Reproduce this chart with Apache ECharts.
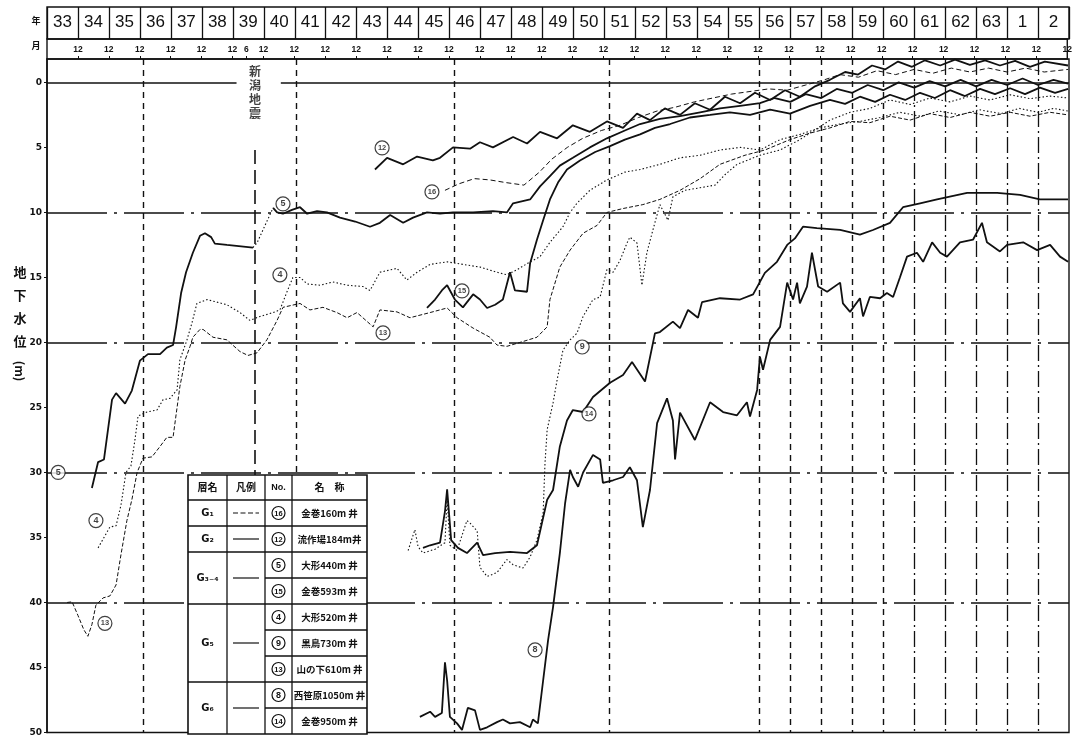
<!DOCTYPE html>
<html>
<head>
<meta charset="utf-8">
<script src="https://cdn.jsdelivr.net/npm/echarts@6/dist/echarts.min.js"></script>
<style>
html, body { margin: 0; padding: 0; background: #fff; }
#chart { width: 1075px; height: 737px; }
</style>
</head>
<body>
<div id="chart"></div>
<script>
// ---- header: fiscal years (Showa 33 .. Heisei 2) and month marks ----
const yearLabels = ['33','34','35','36','37','38','39','40','41','42','43','44','45','46','47','48','49','50','51','52','53','54','55','56','57','58','59','60','61','62','63','1','2'];
const monthLabelValues = [34,35,36,37,38,39,39.45,40,41,42,43,44,45,46,47,48,49,50,51,52,53,54,55,56,57,58,59,60,61,62,63,64,65,66];
const monthLabelTexts  = ['12','12','12','12','12','12','6','12','12','12','12','12','12','12','12','12','12','12','12','12','12','12','12','12','12','12','12','12','12','12','12','12','12','12'];
const depthTicks = [0,5,10,15,20,25,30,35,40,45,50];

// ---- reference lines (x in Showa years, y in metres below ground) ----
const zeroLineSegments = [[33, 39.12], [40.55, 66]];
const levelLines = [10, 20, 30, 40];
const boundaryShortDash = [36.1, 41.05, 46.15, 51.15, 56, 57, 58, 59, 60];
const boundaryLongDash = [61, 62, 63, 64, 65];
const quakeYear = 39.72;
const quakeLineSpan = [5.2, 30.2];
const quakeLabelDepth = 0.75;

// ---- observation wells: [Showa year, depth m] ----
const well5Early = [[34.45,31.2],[34.65,29.2],[34.84,29.0],[35.10,24.4],[35.23,23.9],[35.52,24.7],[35.74,23.7],[36.00,21.4],[36.26,20.9],[36.65,20.9],[36.87,20.4],[37.07,20.2],[37.17,18.8],[37.33,16.2],[37.49,14.6],[37.71,13.1],[37.94,11.8],[38.10,11.6],[38.30,11.9],[38.42,12.4],[38.81,12.5],[39.65,12.7]];
const well5Gap = [[39.65,12.7],[39.78,12.35],[40.30,9.65]];
const well5Late = [[40.30,9.65],[40.43,10.0],[40.62,10.1],[40.91,9.8],[41.17,9.6],[41.40,10.1],[41.72,9.9],[42.04,10.0],[42.46,10.4],[42.95,10.7],[43.43,11.1],[43.75,10.8],[44.08,10.2],[44.50,10.8],[44.82,10.4],[45.27,10.0],[45.69,10.1],[46.11,10.0],[46.76,10.0],[47.40,9.9],[47.85,10.0],[48.05,9.3],[48.60,9.0],[48.92,8.0],[49.24,7.2],[49.56,6.4],[49.98,5.8],[50.53,5.0],[51.08,4.3],[51.66,3.7],[52.15,3.2],[52.79,2.8],[53.44,2.6],[54.09,2.3],[54.73,2.0],[55.38,1.8],[56.02,1.6],[56.5,1.2],[57.0,1.5],[57.5,0.9],[58.0,1.2],[58.5,0.5],[59.0,0.8],[59.5,0.2],[60.0,0.6],[60.5,0.0],[61.0,0.4],[61.5,-0.1],[62.0,0.3],[62.5,-0.2],[63.0,0.3],[63.5,-0.2],[64.0,0.2],[64.5,-0.3],[65.0,0.2],[65.5,-0.2],[65.97,0.1]];
const well12 = [[43.59,6.7],[43.98,5.8],[44.50,6.3],[44.95,5.7],[45.46,6.0],[45.69,5.8],[46.11,5.0],[46.66,5.1],[46.98,4.6],[47.40,5.0],[48.05,4.2],[48.50,4.7],[48.92,3.8],[49.47,4.3],[49.98,3.3],[50.53,3.8],[51.08,3.0],[51.60,3.5],[52.05,2.4],[52.47,2.9],[52.95,2.0],[53.44,2.5],[53.92,1.6],[54.41,2.1],[54.89,1.1],[55.38,1.6],[55.86,0.8],[56.35,1.35],[56.83,0.6],[57.31,1.1],[57.80,0.3],[58.28,-0.2],[58.77,-0.8],[59.19,-0.6],[59.64,-1.3],[60.06,-1.0],[60.48,-1.6],[60.93,-1.2],[61.35,-1.7],[61.84,-1.3],[62.32,-1.75],[62.80,-1.35],[63.29,-1.7],[63.77,-1.3],[64.26,-1.65],[64.74,-1.2],[65.22,-1.6],[65.97,-1.3]];
const well15 = [[45.27,17.35],[45.53,16.7],[45.75,16.0],[45.92,15.6],[46.17,16.7],[46.43,17.3],[46.76,16.3],[46.98,16.7],[47.21,17.35],[47.47,17.1],[47.72,16.7],[47.95,14.6],[48.11,16.0],[48.50,16.1],[48.60,13.9],[48.82,12.1],[49.02,10.6],[49.24,9.0],[49.50,7.7],[49.79,6.7],[50.21,6.0],[50.70,5.35],[51.18,4.9],[51.66,4.4],[52.15,4.0],[52.63,3.5],[53.12,3.2],[53.76,2.7],[54.41,2.5],[55.05,2.3],[55.70,2.5],[56.35,2.1],[56.99,2.4],[57.64,1.8],[58.28,1.35],[58.77,1.65],[59.25,1.1],[59.74,1.5],[60.22,0.95],[60.71,1.35],[61.19,0.8],[61.67,1.2],[62.16,0.6],[62.64,1.05],[63.13,0.5],[63.61,0.9],[64.10,0.45],[64.58,0.9],[65.06,0.4],[65.55,0.8],[65.97,0.5]];
const well16 = [[45.85,8.3],[46.3,7.8],[46.8,7.4],[47.3,7.5],[47.8,7.7],[48.4,7.9],[48.9,6.9],[49.3,5.9],[49.8,5.0],[50.3,4.3],[50.9,3.7],[51.5,3.3],[52.1,2.7],[52.7,2.2],[53.3,1.9],[53.9,1.5],[54.5,1.2],[55.1,0.9],[55.7,0.7],[56.3,0.5],[56.9,0.6],[57.5,0.2],[58.1,-0.2],[58.6,-0.6],[59.2,-0.4],[59.8,-0.9],[60.4,-0.6],[61.0,-1.0],[61.6,-0.7],[62.2,-1.1],[62.8,-0.8],[63.4,-1.1],[64.0,-0.8],[64.6,-1.1],[65.2,-0.8],[65.97,-1.0]];
const well4 = [[34.65,35.8],[34.84,35.0],[35.03,34.2],[35.23,34.1],[35.39,32.5],[35.55,30.0],[35.71,29.5],[35.84,27.5],[35.94,25.65],[36.23,25.35],[36.55,25.2],[36.75,24.4],[36.97,24.3],[37.20,23.65],[37.29,21.35],[37.52,19.8],[37.68,18.5],[37.84,17.0],[38.17,16.7],[38.81,17.1],[39.23,17.7],[39.55,18.3],[39.88,18.0],[40.30,17.7],[40.52,17.5],[40.75,16.1],[40.94,15.0],[41.17,15.0],[41.40,15.5],[41.82,15.6],[42.23,15.35],[42.69,15.6],[43.20,15.7],[43.43,16.0],[43.75,14.6],[44.30,14.3],[44.62,15.2],[44.95,14.6],[45.37,14.0],[45.92,13.8],[46.43,14.0],[46.98,14.2],[47.53,14.6],[47.85,14.8],[48.18,14.4],[48.60,13.8],[48.92,13.4],[49.24,12.3],[49.66,11.1],[49.89,10.0],[50.11,9.3],[50.53,8.3],[51.08,7.5],[51.66,6.9],[52.15,6.7],[52.79,6.3],[53.44,5.8],[54.09,5.6],[54.73,5.2],[55.38,5.0],[56.02,5.2],[56.67,4.4],[57.31,4.0],[57.96,3.5],[58.61,3.2],[59.25,3.0],[59.90,2.7],[60.54,2.3],[61.2,2.6],[61.8,2.2],[62.5,2.5],[63.1,2.1],[63.8,2.4],[64.4,2.0],[65.0,2.3],[65.5,2.0],[65.97,2.2]];
const well9 = [[44.66,36.0],[44.88,34.4],[44.98,35.7],[45.14,36.2],[45.53,35.9],[45.85,35.4],[45.92,32.0],[46.01,35.6],[46.24,36.0],[46.56,33.7],[46.66,33.9],[46.89,34.5],[46.98,37.3],[47.21,38.0],[47.53,37.7],[47.85,36.7],[48.05,37.1],[48.37,37.35],[48.60,36.5],[48.82,35.2],[49.02,33.1],[49.08,29.3],[49.15,26.7],[49.34,24.65],[49.47,22.9],[49.66,20.6],[49.89,19.8],[50.11,19.3],[50.31,18.0],[50.63,16.7],[50.86,16.5],[51.08,14.4],[51.28,14.6],[51.50,13.7],[51.73,12.35],[51.82,11.9],[52.05,12.35],[52.21,15.6],[52.37,13.1],[52.57,11.3],[52.79,9.4],[53.05,10.6],[53.21,8.8],[53.60,8.3],[54.09,8.1],[54.57,7.9],[54.89,7.1],[55.28,6.3],[55.60,6.0],[56.02,5.6],[56.67,5.2],[57.31,4.4],[57.80,3.65],[58.28,2.9],[58.93,2.3],[59.57,2.0],[60.22,1.35],[60.87,1.7],[61.51,1.2],[62.16,1.5],[62.80,1.05],[63.45,1.35],[64.10,0.95],[64.74,1.25],[65.39,1.05],[65.97,1.2]];
const well13 = [[33.65,40.0],[33.81,39.95],[34.0,41.0],[34.19,42.1],[34.32,42.6],[34.45,41.7],[34.58,40.2],[34.81,39.65],[35.03,39.5],[35.23,38.65],[35.39,36.3],[35.58,33.7],[35.74,32.1],[35.91,30.0],[36.10,28.9],[36.39,28.8],[36.65,28.0],[36.87,27.3],[37.07,27.3],[37.20,25.0],[37.29,23.4],[37.46,21.35],[37.62,20.3],[37.71,19.6],[37.94,19.0],[38.04,19.0],[38.36,19.6],[38.81,19.8],[39.23,20.7],[39.49,21.0],[39.78,20.8],[40.10,19.8],[40.43,18.3],[40.62,17.3],[41.17,17.0],[41.49,17.5],[41.91,17.3],[42.36,17.7],[42.69,18.1],[43.01,17.7],[43.53,18.8],[43.75,17.5],[44.30,17.65],[44.72,18.1],[45.37,17.7],[45.92,17.35],[46.24,18.1],[46.76,18.9],[47.30,19.6],[47.53,20.2],[47.85,20.3],[48.27,20.0],[48.82,19.6],[49.15,18.8],[49.24,16.7],[49.56,14.2],[49.89,12.9],[50.31,11.6],[50.76,11.0],[51.08,10.0],[51.60,9.7],[52.24,9.4],[52.79,9.0],[53.44,8.3],[54.09,7.4],[54.73,6.3],[55.54,5.6],[56.18,5.2],[56.99,4.4],[57.64,3.9],[58.28,3.5],[58.93,3.0],[59.57,3.1],[60.22,2.6],[60.87,2.9],[61.51,2.4],[62.16,2.7],[62.80,2.3],[63.45,2.6],[64.10,2.3],[64.74,2.6],[65.39,2.3],[65.97,2.5]];
const well14 = [[45.14,35.8],[45.37,35.6],[45.69,35.4],[45.85,33.0],[45.92,31.3],[46.05,35.2],[46.27,35.8],[46.56,36.2],[46.89,35.4],[47.08,36.35],[47.47,36.2],[47.95,36.1],[48.50,36.2],[48.82,35.6],[49.15,32.1],[49.34,31.35],[49.56,28.0],[49.79,26.0],[49.98,25.2],[50.31,25.35],[50.63,24.2],[51.18,23.1],[51.60,22.5],[51.89,21.5],[52.31,23.0],[52.63,19.3],[52.79,19.2],[53.21,18.4],[53.44,18.9],[53.70,17.5],[54.02,18.1],[54.15,16.9],[54.73,16.6],[55.38,16.7],[55.80,16.3],[56.18,14.65],[56.57,13.8],[56.90,12.5],[57.15,12.0],[57.41,11.1],[57.86,11.2],[58.61,11.35],[59.25,11.7],[59.67,11.35],[60.22,10.8],[60.64,9.6],[61.19,9.3],[61.74,9.0],[62.71,8.5],[63.68,8.5],[64.42,8.65],[65.06,9.0],[65.97,9.0]];
const well8 = [[45.04,48.8],[45.37,48.4],[45.53,48.8],[45.75,48.5],[45.85,44.6],[45.92,46.0],[46.01,48.8],[46.24,49.3],[46.40,49.8],[46.59,48.1],[46.82,48.3],[46.98,49.8],[47.21,49.6],[47.53,49.2],[47.72,49.0],[47.95,49.3],[48.27,49.2],[48.60,49.6],[48.69,49.0],[48.85,49.3],[49.02,46.0],[49.18,42.9],[49.34,40.35],[49.56,36.2],[49.73,32.35],[49.89,29.8],[49.98,30.35],[50.15,31.1],[50.31,30.0],[50.63,28.65],[50.86,29.0],[50.95,30.8],[51.28,30.6],[51.60,30.35],[51.82,29.6],[52.05,30.6],[52.24,34.2],[52.47,31.35],[52.70,26.2],[53.02,24.3],[53.21,26.0],[53.28,29.0],[53.44,25.4],[53.92,27.5],[54.41,24.6],[54.83,25.35],[55.28,25.6],[55.60,24.6],[55.70,25.7],[55.93,23.65],[56.02,21.1],[56.12,22.1],[56.35,19.8],[56.67,18.8],[56.90,15.4],[57.09,16.7],[57.22,15.4],[57.31,17.0],[57.54,15.7],[57.70,13.1],[57.90,15.7],[58.19,16.1],[58.61,15.4],[58.70,17.0],[58.93,17.65],[59.25,16.6],[59.35,18.0],[59.57,16.5],[59.90,16.6],[60.12,16.2],[60.32,16.5],[60.54,15.0],[60.77,13.4],[61.09,13.1],[61.29,13.8],[61.58,12.3],[61.84,13.1],[62.06,13.4],[62.48,12.3],[62.90,12.1],[63.19,10.8],[63.35,12.3],[63.77,13.0],[64.00,12.5],[64.52,12.3],[64.97,12.9],[65.39,12.5],[65.71,13.4],[65.97,13.8]];

// circled well numbers placed beside the curves
const curveTagNos    = ['5','4','13','5','4','12','16','15','13','9','14','8'];
const curveTagPoints = [[33.36,30.0],[34.58,33.7],[34.87,41.6],[40.62,9.35],[40.52,14.8],[43.82,5.04],[45.43,8.42],[46.40,16.04],[43.85,19.27],[50.28,20.35],[50.5,25.5],[48.76,43.65]];

// ---- legend table ----
const layerNames = ['G₁','G₂','G₃₋₄','G₅','G₆'];
const layerWellCounts = [1,1,2,3,2];
const layerLineDash = [[5,2.5], null, null, null, null];
const wellNos = ['16','12','5','15','4','9','13','8','14'];
const wellNames = ['金巻160m 井','流作場184m井','大形440m 井','金巻593m 井','大形520m 井','黒鳥730m 井','山の下610m 井','西笹原1050m 井','金巻950m 井'];

const INK = '#111';
const JP = "'Noto Sans CJK JP', 'DejaVu Sans', sans-serif";
const NUM = "'Liberation Sans Narrow', 'Liberation Sans', 'DejaVu Sans', sans-serif";

const thick = { color: INK, width: 1.8, type: 'solid' };
const dotted = { color: INK, width: 1.1, type: [1.5, 2.2] };
const fine = { color: INK, width: 1.0, type: [4, 2] };
const dashed = { color: INK, width: 1.0, type: [5, 3] };

function curve(name, data, style) {
  return { name, type: 'line', xAxisIndex: 0, yAxisIndex: 0, data, symbol: 'none',
           lineStyle: style, z: 3, silent: true };
}

const refStyleLevel = { color: INK, width: 1.5, type: [60, 7, 3, 7] };
const refStyleShort = { color: INK, width: 1.4, type: [6, 5] };
const refStyleLong = { color: INK, width: 1.3, type: [16, 4, 2, 4] };
const refStyleZero = { color: INK, width: 1.6, type: 'solid' };
const refStyleQuake = { color: INK, width: 1.6, type: [14, 6] };

const markLines = [];
levelLines.forEach(v => markLines.push({ yAxis: v, lineStyle: refStyleLevel }));
zeroLineSegments.forEach(s => markLines.push([{ coord: [s[0], 0], lineStyle: refStyleZero }, { coord: [s[1], 0], lineStyle: refStyleZero }]));
boundaryShortDash.forEach(v => markLines.push({ xAxis: v, lineStyle: refStyleShort }));
boundaryLongDash.forEach(v => markLines.push({ xAxis: v, lineStyle: refStyleLong }));
markLines.push([{ coord: [quakeYear, quakeLineSpan[0]], lineStyle: refStyleQuake }, { coord: [quakeYear, quakeLineSpan[1]], lineStyle: refStyleQuake }]);

function monthText(v) {
  for (let i = 0; i < monthLabelValues.length; i++) {
    if (Math.abs(monthLabelValues[i] - v) < 1e-6) return monthLabelTexts[i];
  }
  return '';
}

// legend table drawn as graphic elements
const elems = [];
const tx = [188, 227, 265, 292, 367];
const tTop = 475, tHead = 25, tRow = 26;
const tBottom = tTop + tHead + tRow * wellNames.length;
function seg(x1, y1, x2, y2, w) {
  return { type: 'line', z: 100, shape: { x1, y1, x2, y2 }, style: { stroke: INK, lineWidth: w || 1.3 } };
}
function label(text, x, y, size, family) {
  return { type: 'text', z: 101, x, y, style: { text, fill: INK, fontSize: size || 10, fontWeight: 'bold',
           fontFamily: family || JP, align: 'center', verticalAlign: 'middle' } };
}
elems.push({ type: 'rect', z: 99, shape: { x: tx[0], y: tTop, width: tx[4] - tx[0], height: tBottom - tTop },
             style: { fill: '#fff', stroke: INK, lineWidth: 1.6 } });
[1, 2, 3].forEach(i => elems.push(seg(tx[i], tTop, tx[i], tBottom)));
elems.push(seg(tx[0], tTop + tHead, tx[4], tTop + tHead));
elems.push(label('層名', (tx[0] + tx[1]) / 2, tTop + tHead / 2, 10));
elems.push(label('凡例', (tx[1] + tx[2]) / 2, tTop + tHead / 2, 10));
elems.push(label('No.', (tx[2] + tx[3]) / 2, tTop + tHead / 2, 9, NUM));
elems.push(label('名　称', (tx[3] + tx[4]) / 2, tTop + tHead / 2, 10));
let rowAt = 0;
layerNames.forEach((ln, g) => {
  const n = layerWellCounts[g];
  const y0 = tTop + tHead + rowAt * tRow, y1 = y0 + n * tRow, yc = (y0 + y1) / 2;
  if (rowAt + n < wellNames.length) elems.push(seg(tx[0], y1, tx[4], y1));
  for (let k = 1; k < n; k++) elems.push(seg(tx[2], y0 + k * tRow, tx[4], y0 + k * tRow));
  elems.push(label(ln, (tx[0] + tx[1]) / 2, yc, 10, "'DejaVu Sans', sans-serif"));
  elems.push({ type: 'line', z: 101, shape: { x1: tx[1] + 6, y1: yc, x2: tx[2] - 6, y2: yc },
               style: { stroke: INK, lineWidth: 1.2, lineDash: layerLineDash[g] } });
  rowAt += n;
});
wellNos.forEach((no, i) => {
  const yc = tTop + tHead + i * tRow + tRow / 2;
  const cx = (tx[2] + tx[3]) / 2;
  elems.push({ type: 'circle', z: 101, shape: { cx, cy: yc, r: 6.5 }, style: { fill: '#fff', stroke: INK, lineWidth: 1.2 } });
  elems.push(label(no, cx, yc + 0.5, no.length > 1 ? 7.5 : 9, NUM));
  elems.push(label(wellNames[i], (tx[3] + tx[4]) / 2, yc, 9.5));
});
// axis title and header captions
elems.push({ type: 'text', z: 101, x: 20, y: 261, style: { text: '地\n下\n水\n位', fill: INK, fontSize: 13, fontWeight: 'bold',
             fontFamily: JP, lineHeight: 23, align: 'center', verticalAlign: 'top' } });
elems.push({ type: 'text', z: 101, x: 20, y: 371, rotation: -Math.PI / 2, style: { text: '(m)', fill: INK, fontSize: 12,
             fontWeight: 'bold', fontFamily: JP, align: 'center', verticalAlign: 'middle' } });
elems.push(label('年', 36, 21, 9));
elems.push(label('月', 36, 46, 9));

const chart = echarts.init(document.getElementById('chart'), null, { renderer: 'canvas' });
chart.setOption({
  animation: false,
  backgroundColor: '#fff',
  grid: [
    { left: 47, top: 59, width: 1022, height: 674, show: true, borderColor: INK, borderWidth: 1.4, backgroundColor: 'transparent' },
    { left: 47, top: 39, width: 1022, height: 20, show: true, borderColor: INK, borderWidth: 1.4, backgroundColor: 'transparent' },
    { left: 47, top: 7, width: 1022, height: 32, show: true, borderColor: INK, borderWidth: 1.4, backgroundColor: 'transparent' }
  ],
  xAxis: [
    { gridIndex: 0, type: 'value', min: 33, max: 66, show: false },
    { gridIndex: 1, type: 'value', min: 33, max: 66, interval: 1, position: 'bottom',
      axisLine: { show: false },
      axisTick: { show: true, inside: true, length: 3, customValues: monthLabelValues, lineStyle: { color: INK, width: 1 } },
      axisLabel: { show: true, inside: true, margin: 5, customValues: monthLabelValues, formatter: monthText,
                   fontSize: 8.5, fontWeight: 'bold', color: INK, fontFamily: NUM },
      splitLine: { show: false } },
    { gridIndex: 2, type: 'category', data: yearLabels, boundaryGap: true, position: 'bottom',
      axisLine: { show: false }, axisTick: { show: false },
      axisLabel: { inside: true, margin: 8, interval: 0, fontSize: 17, color: INK, fontFamily: NUM },
      splitLine: { show: true, interval: 0, lineStyle: { color: INK, width: 1.3 } } }
  ],
  yAxis: [
    { gridIndex: 0, type: 'value', inverse: true, min: -1.8, max: 50,
      axisLine: { show: true, lineStyle: { color: INK, width: 1.5 } },
      axisTick: { show: true, length: 3, customValues: depthTicks, lineStyle: { color: INK } },
      axisLabel: { show: true, customValues: depthTicks, margin: 5, fontSize: 9, fontWeight: 'bold', color: INK,
                   fontFamily: "'DejaVu Sans', sans-serif" },
      splitLine: { show: false } },
    { gridIndex: 1, type: 'value', min: 0, max: 1, show: false },
    { gridIndex: 2, type: 'value', min: 0, max: 1, show: false }
  ],
  graphic: { elements: elems },
  series: [
    { type: 'line', xAxisIndex: 0, yAxisIndex: 0, data: [], silent: true, z: 1,
      markLine: { symbol: ['none', 'none'], silent: true, animation: false, label: { show: false }, data: markLines } },
    curve('⑧ 西笹原1050m井', well8, thick),
    curve('⑭ 金巻950m井', well14, thick),
    curve('⑨ 黒鳥730m井', well9, dotted),
    curve('⑬ 山の下610m井', well13, fine),
    curve('④ 大形520m井', well4, dotted),
    curve('⑯ 金巻160m井', well16, dashed),
    curve('⑮ 金巻593m井', well15, thick),
    curve('⑤ 大形440m井', well5Early, thick),
    curve('⑤ 大形440m井 欠測', well5Gap, dotted),
    curve('⑤ 大形440m井', well5Late, thick),
    curve('⑫ 流作場184m井', well12, thick),
    { name: 'tags', type: 'scatter', xAxisIndex: 0, yAxisIndex: 0, z: 5, silent: true,
      symbol: 'circle', symbolSize: 14,
      itemStyle: { color: '#fff', borderColor: INK, borderWidth: 1.2 },
      data: curveTagPoints.map((p, i) => ({ value: p, no: curveTagNos[i] })),
      label: { show: true, position: 'inside', color: INK, fontWeight: 'bold', fontFamily: NUM,
               formatter: p => (p.data.no.length > 1 ? '{s|' + p.data.no + '}' : '{b|' + p.data.no + '}'),
               rich: { s: { fontSize: 7.5, fontWeight: 'bold', color: INK }, b: { fontSize: 9, fontWeight: 'bold', color: INK } } } },
    { name: 'quake', type: 'scatter', xAxisIndex: 0, yAxisIndex: 0, z: 5, silent: true,
      symbolSize: 0, data: [[quakeYear, quakeLabelDepth]],
      label: { show: true, position: 'inside', formatter: '新\n潟\n地\n震', fontSize: 12, lineHeight: 14,
               fontWeight: 'bold', color: INK, fontFamily: JP } }
  ]
});
</script>
</body>
</html>
